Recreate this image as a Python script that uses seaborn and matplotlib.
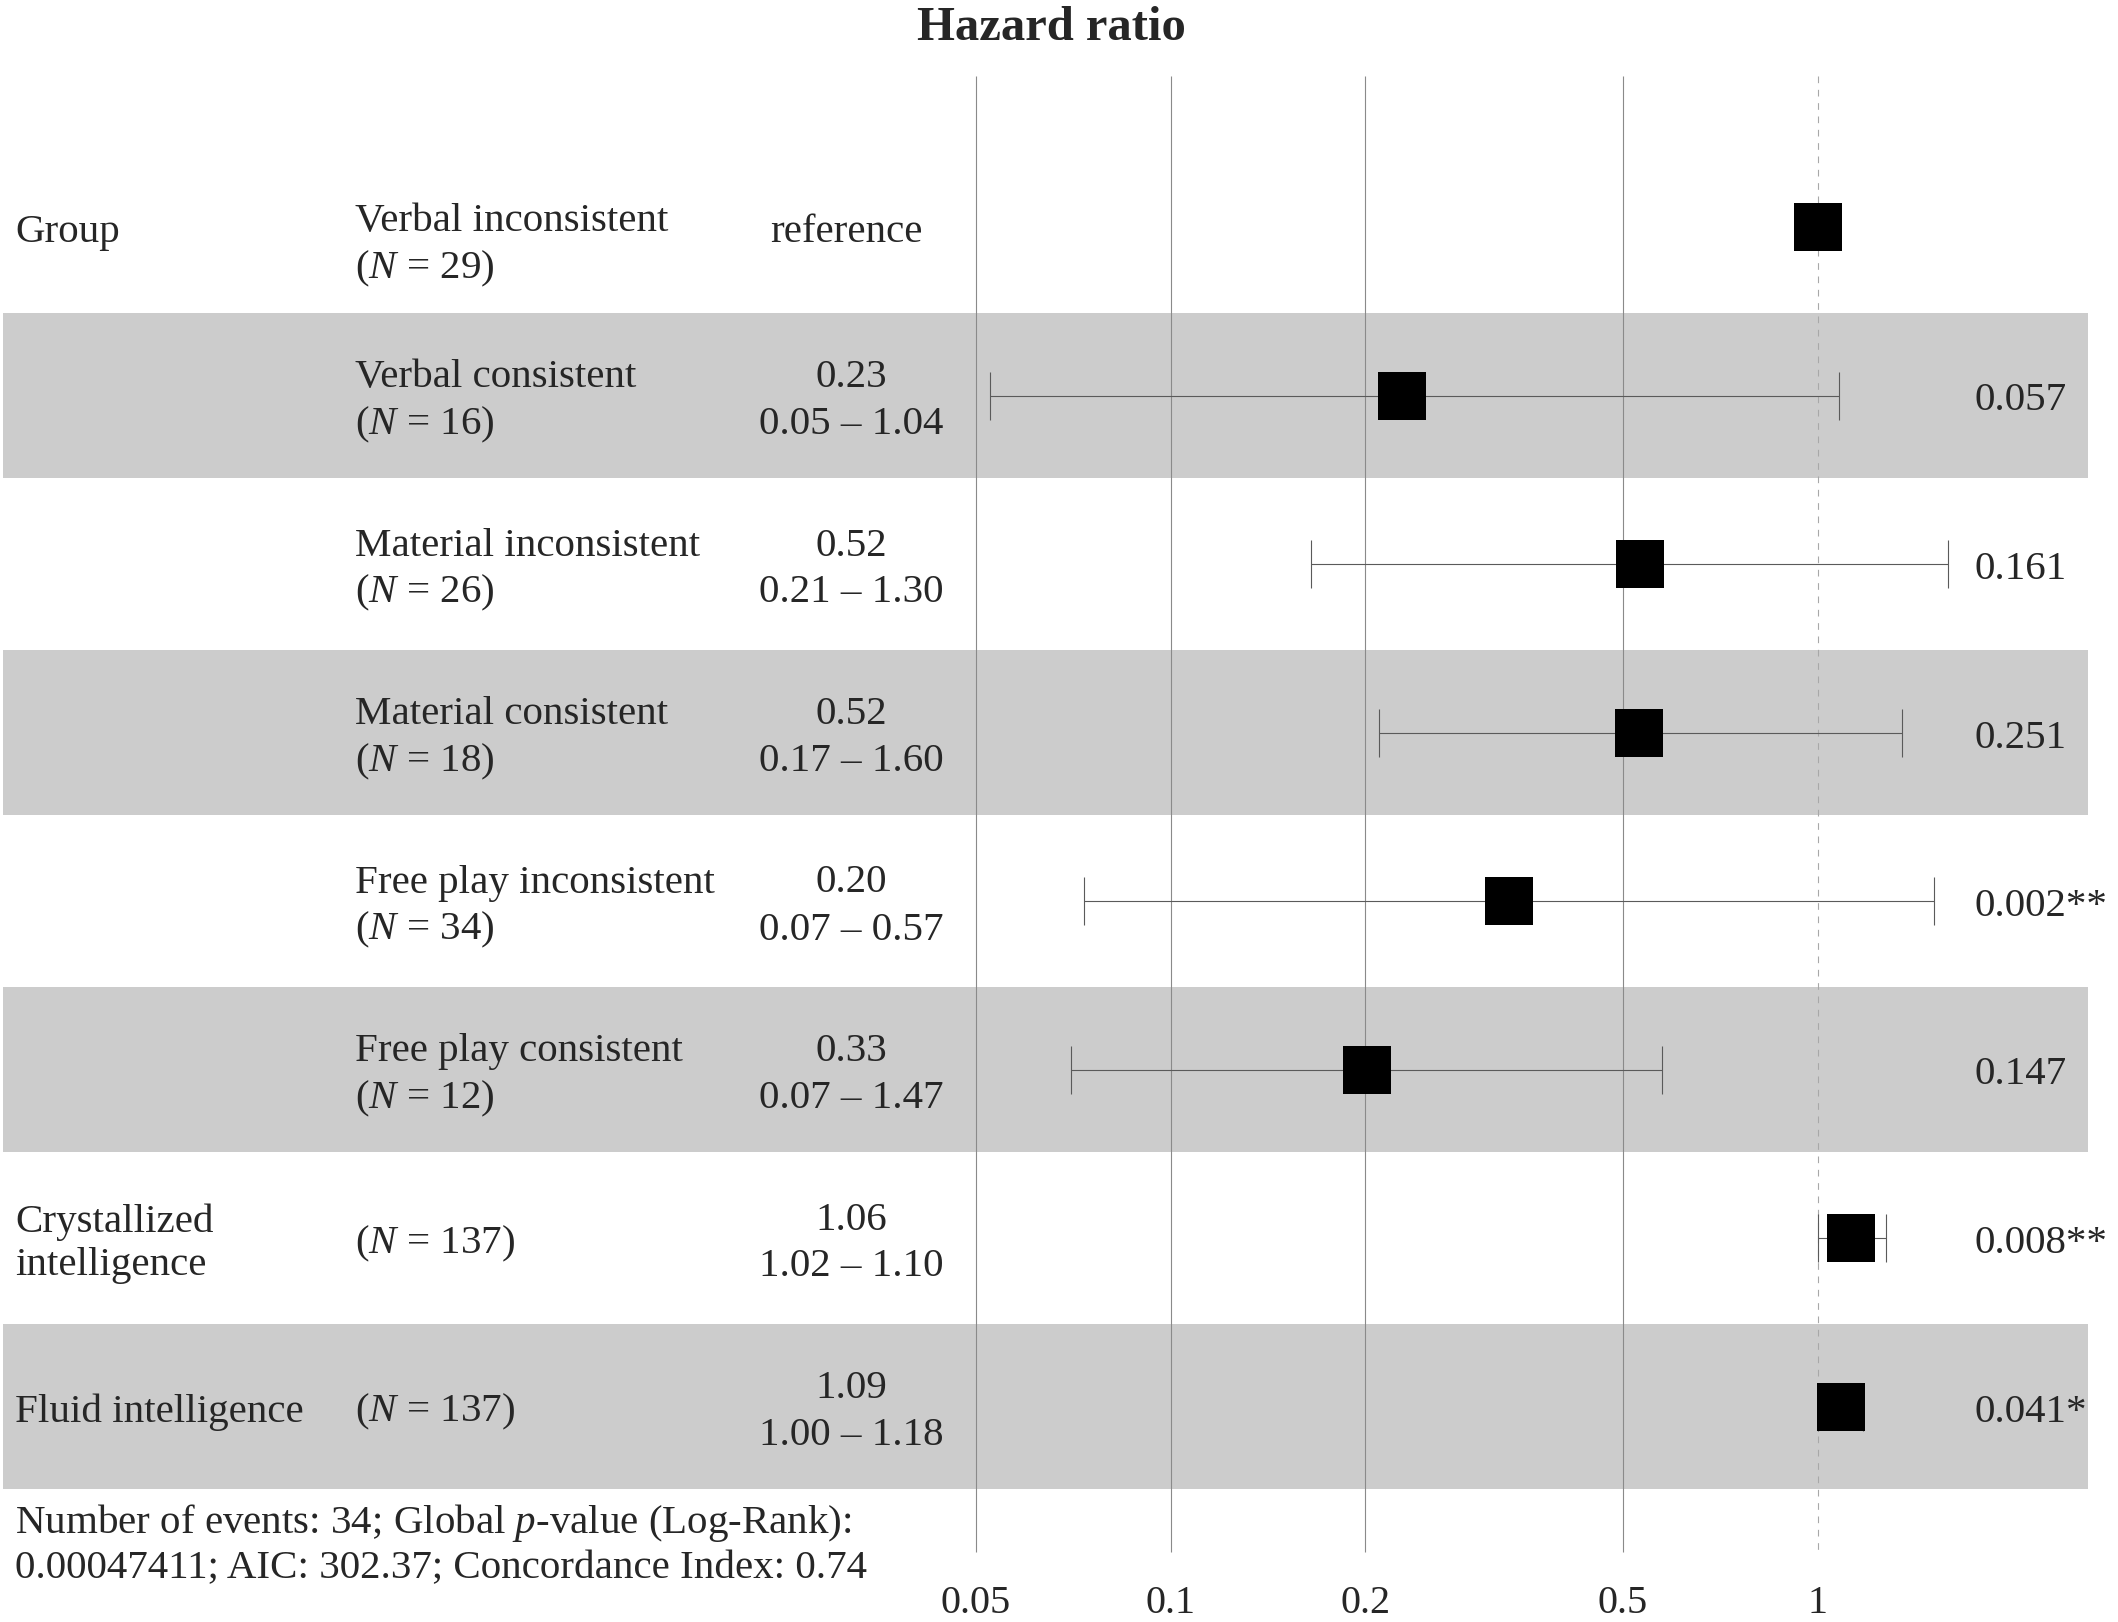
import numpy as np
import matplotlib
matplotlib.use('Agg')
import matplotlib.pyplot as plt
import matplotlib.transforms as mtransforms
import seaborn as sns

# table columns, top row first
variables = ['Group', '', '', '', '', '', 'Crystallized\nintelligence', 'Fluid intelligence']
levels = ['Verbal inconsistent', 'Verbal consistent', 'Material inconsistent',
          'Material consistent', 'Free play inconsistent', 'Free play consistent', '', '']
n_obs = [29, 16, 26, 18, 34, 12, 137, 137]
hr_labels = ['reference', '0.23', '0.52', '0.52', '0.20', '0.33', '1.06', '1.09']
ci_labels = ['', '0.05 \u2013 1.04', '0.21 \u2013 1.30', '0.17 \u2013 1.60',
             '0.07 \u2013 0.57', '0.07 \u2013 1.47', '1.02 \u2013 1.10', '1.00 \u2013 1.18']
p_labels = ['', '0.057', '0.161', '0.251', '0.002**', '0.147', '0.008**', '0.041*']

# squares and whiskers as they are drawn in the figure
hr_drawn = [1.0, 0.228, 0.531, 0.530, 0.334, 0.201, 1.126, 1.085]
ci_low = [np.nan, 0.0526, 0.165, 0.210, 0.0734, 0.0702, 1.0, 1.0]
ci_high = [np.nan, 1.08, 1.59, 1.35, 1.51, 0.574, 1.275, 1.175]

tick_values = [0.05, 0.1, 0.2, 0.5, 1]
tick_labels = ['0.05', '0.1', '0.2', '0.5', '1']
footer = ['Number of events: 34; Global $p$-value (Log-Rank):',
          '0.00047411; AIC: 302.37; Concordance Index: 0.74']

sns.set_theme(style='white')
plt.rcParams['font.family'] = ['Liberation Serif', 'DejaVu Serif']
plt.rcParams['mathtext.fontset'] = 'custom'
plt.rcParams['mathtext.rm'] = 'Liberation Serif'
plt.rcParams['mathtext.it'] = 'Liberation Serif:italic'

W, H = 2118, 1622
ROW0, ROWH = 227.0, 168.5          # pixel centre of first row, row pitch
PX_DEC, PX_ONE = 647.2, 1817.7     # log-axis scale in pixels
AX_BOTTOM = 1575
FS = 29.5
TXT_DY = 5.5                       # nudge text so it sits on the row centre


def ydat(px):
    return (px - ROW0) / ROWH


fig = plt.figure(figsize=(W / 100, H / 100), dpi=100)
ax = fig.add_axes([0, 1 - AX_BOTTOM / H, 1, AX_BOTTOM / H])
ax.set_xscale('log')
ax.set_xlim(10 ** ((0 - PX_ONE) / PX_DEC), 10 ** ((W - PX_ONE) / PX_DEC))
ax.set_ylim(ydat(AX_BOTTOM), ydat(0))
for s in ax.spines.values():
    s.set_visible(False)
ax.set_yticks([])
ax.set_xticks(tick_values)
ax.set_xticklabels(tick_labels)
ax.minorticks_off()
ax.tick_params(axis='x', length=0, pad=7, labelsize=FS - 0.5)

rows = np.arange(len(levels))

# alternating grey bands
half = 165 / ROWH / 2
for r in rows[1::2]:
    ax.axhspan(r - half, r + half, xmin=3 / W, xmax=2088 / W,
               color='#cccccc', lw=0, zorder=0)

# reference lines
ax.vlines(tick_values[:-1], ydat(76), ydat(1552), color='#8a8a8a', lw=0.8, zorder=1)
ax.vlines([1], ydat(76), ydat(1552), color='#a8a8a8', lw=0.8,
          linestyles=(0, (6, 6)), zorder=1)

# confidence intervals
hr = np.array(hr_drawn)
lo = np.array(ci_low)
hi = np.array(ci_high)
ok = ~np.isnan(lo)
ax.errorbar(hr[ok], rows[ok], xerr=[hr[ok] - lo[ok], hi[ok] - hr[ok]], fmt='none',
            ecolor='#5a5a5a', elinewidth=0.8, capsize=17.3, capthick=0.8, zorder=2)

# hazard ratio squares
sns.scatterplot(x=hr, y=rows, marker='s', s=34.5 ** 2, color='black',
                linewidth=0, ax=ax, zorder=4, legend=False)

# text columns
tr = mtransforms.blended_transform_factory(ax.transAxes, ax.transData)
d = 23.5 / ROWH
dy = TXT_DY / ROWH
for r in rows:
    y = r + dy
    if variables[r]:
        ax.text(15 / W, y, variables[r], transform=tr, ha='left', va='center',
                fontsize=FS, linespacing=1.2)
    n_txt = '($N$ = %d)' % n_obs[r]
    if levels[r]:
        shift = 13 / ROWH if r == 0 else 0
        ax.text(355 / W, y - d + shift, levels[r], transform=tr, ha='left',
                va='center', fontsize=FS)
        ax.text(355 / W, y + d + shift, n_txt, transform=tr, ha='left',
                va='center', fontsize=FS)
    else:
        ax.text(355 / W, y, n_txt, transform=tr, ha='left', va='center', fontsize=FS)
    if ci_labels[r]:
        ax.text(851 / W, y - d, hr_labels[r], transform=tr, ha='center',
                va='center', fontsize=FS)
        ax.text(851 / W, y + d, ci_labels[r], transform=tr, ha='center',
                va='center', fontsize=FS)
    else:
        ax.text(846 / W, y, hr_labels[r], transform=tr, ha='center',
                va='center', fontsize=FS)
    if p_labels[r]:
        ax.text(1975 / W, y, p_labels[r], transform=tr, ha='left', va='center',
                fontsize=FS)

fig.text(1051 / W, 1 - 28 / H, 'Hazard ratio', ha='center', va='center',
         fontsize=35, fontweight='bold')
fig.text(15 / W, 1 - 1523 / H, footer[0], ha='left', va='center', fontsize=FS)
fig.text(15 / W, 1 - 1569 / H, footer[1], ha='left', va='center', fontsize=FS)

fig.savefig('out.png', dpi=100)
